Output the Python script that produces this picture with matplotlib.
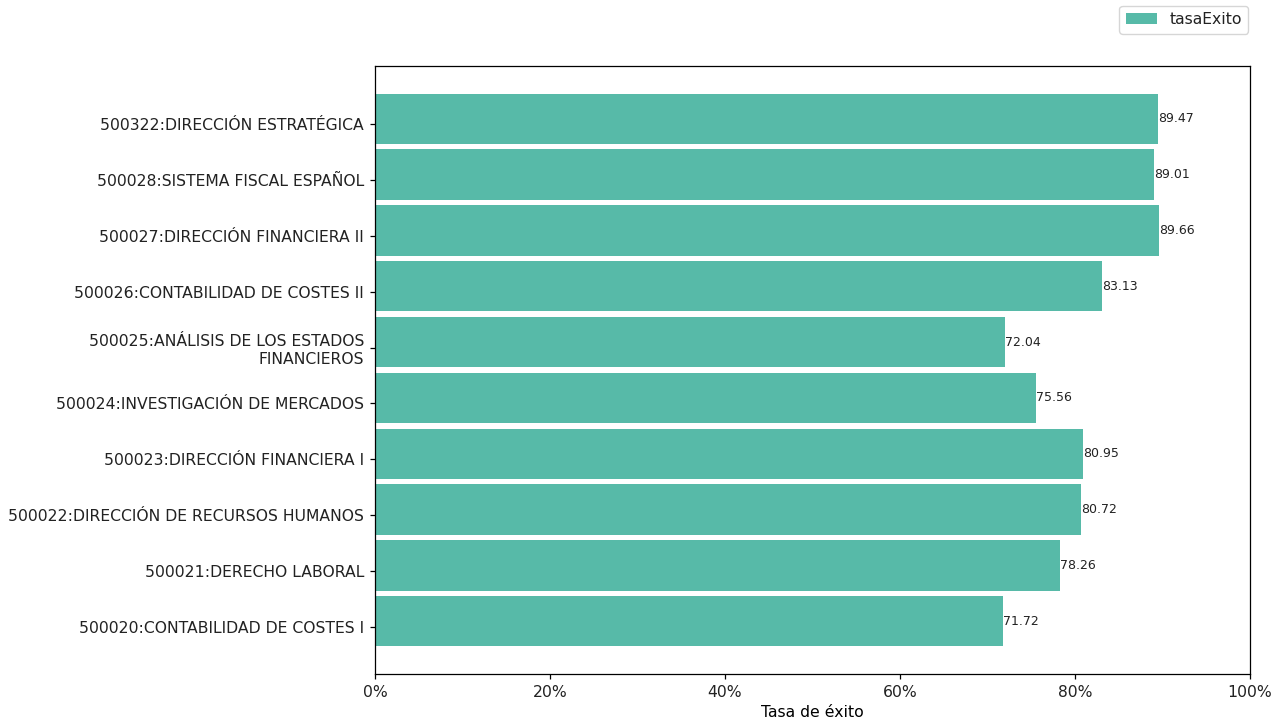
import numpy as np
import matplotlib
matplotlib.use('Agg')
import matplotlib.pyplot as plt
from matplotlib.ticker import PercentFormatter

asignaturas = [
    '500020:CONTABILIDAD DE COSTES I',
    '500021:DERECHO LABORAL',
    '500022:DIRECCIÓN DE RECURSOS HUMANOS',
    '500023:DIRECCIÓN FINANCIERA I',
    '500024:INVESTIGACIÓN DE MERCADOS',
    '500025:ANÁLISIS DE LOS ESTADOS\nFINANCIEROS',
    '500026:CONTABILIDAD DE COSTES II',
    '500027:DIRECCIÓN FINANCIERA II',
    '500028:SISTEMA FISCAL ESPAÑOL',
    '500322:DIRECCIÓN ESTRATÉGICA',
]
tasa_exito = [71.72, 78.26, 80.72, 80.95, 75.56, 72.04, 83.13, 89.66, 89.01, 89.47]


def main():
    # la referencia parece hecha a ~112 dpi, se escalan fuentes y ticks
    k = 1.125
    plt.rcParams['font.family'] = ['DejaVu Sans']
    plt.rcParams['font.size'] = 10 * k
    plt.rcParams['axes.linewidth'] = 0.8 * k
    for ax_name in ('xtick', 'ytick'):
        plt.rcParams[ax_name + '.major.size'] = 3.5 * k
        plt.rcParams[ax_name + '.major.pad'] = 3.5 * k
        plt.rcParams[ax_name + '.major.width'] = 0.8 * k
    plt.rcParams['text.color'] = '#222222'
    plt.rcParams['xtick.labelcolor'] = '#222222'
    plt.rcParams['ytick.labelcolor'] = '#222222'

    fig = plt.figure(figsize=(12.79, 7.24), dpi=100)
    ax = fig.add_axes([0.2932, 0.0691, 0.6841, 0.8397])

    y = np.arange(len(asignaturas))
    # en el original las barras quedan un poco por encima de los ticks
    y_bar = y + 0.1
    bars = ax.barh(y_bar, tasa_exito, height=0.9, color='#57baa8', label='tasaExito')
    for b, v in zip(bars, tasa_exito):
        ax.text(b.get_width(), b.get_y() + b.get_height() / 2, '%.2f' % v,
                va='center', ha='left', fontsize=8 * k)

    ax.set_yticks(y)
    ax.set_yticklabels(asignaturas)
    ax.set_xlim(0, 100)
    ax.xaxis.set_major_formatter(PercentFormatter(100, decimals=0))
    ax.set_xlabel('Tasa de éxito')

    fig.legend(loc='upper right', bbox_to_anchor=(0.982, 1.0025))

    plt.savefig('out.png', dpi=100)
    plt.close('all')


if __name__ == '__main__':
    main()
